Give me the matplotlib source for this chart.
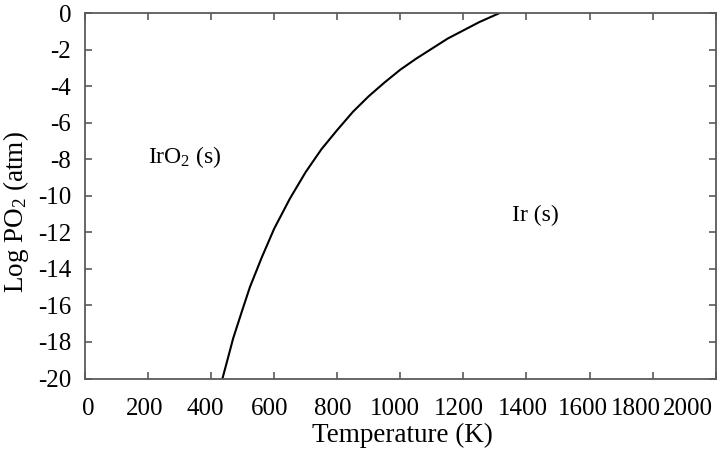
import matplotlib
matplotlib.use('Agg')
import matplotlib.pyplot as plt
from matplotlib.transforms import ScaledTranslation

# boundary IrO2(s) / Ir(s)
temperature = [436, 450, 470, 500, 523, 560, 600, 650, 700, 750, 800, 850, 900, 950,
               1000, 1050, 1100, 1150, 1200, 1250, 1315]
log_po2 = [-20.0, -19.1, -17.8, -16.2, -15.0, -13.4, -11.8, -10.15, -8.7, -7.45, -6.4, -5.4,
           -4.55, -3.8, -3.1, -2.5, -1.95, -1.4, -0.95, -0.5, 0.0]

x_ticks = [0, 200, 400, 600, 800, 1000, 1200, 1400, 1600, 1800, 2000]
y_ticks = [0, -2, -4, -6, -8, -10, -12, -14, -16, -18, -20]

# the reference squeezes the last x labels leftwards (pixels)
x_label_shift = [3, -3, -6, -5, -4, -5, -5, -4, -7, -17, -28]

plt.rcParams['font.family'] = ['Liberation Serif', 'DejaVu Serif']
plt.rcParams['mathtext.fontset'] = 'custom'
plt.rcParams['mathtext.rm'] = 'Liberation Serif'
plt.rcParams['mathtext.it'] = 'Liberation Serif:italic'

axis_color = '#5a5a5a'

fig = plt.figure(figsize=(7.2, 4.49), dpi=100)
ax = fig.add_axes([0.118, 0.157, 0.876, 0.814])

ax.plot(temperature, log_po2, color='black', linewidth=1.5, solid_joinstyle='round')

ax.set_xlim(0, 2000)
ax.set_ylim(-20, 0)
ax.set_xticks(x_ticks)
ax.set_yticks(y_ticks)
ax.set_xticklabels([str(v) for v in x_ticks])
ax.set_yticklabels([str(v) for v in y_ticks])

for s in ax.spines.values():
    s.set_color(axis_color)
    s.set_linewidth(1.3)

ax.tick_params(axis='both', direction='in', length=5, width=1.2, color=axis_color,
               top=True, right=True, labelsize=18, labelcolor='black')
ax.tick_params(axis='x', pad=14)
ax.tick_params(axis='y', pad=10)

for lab, dx in zip(ax.get_xticklabels(), x_label_shift):
    lab.set_transform(lab.get_transform() + ScaledTranslation(dx / 100, 0, fig.dpi_scale_trans))

ax.set_xlabel('Temperature (K)', fontsize=19.5, labelpad=0)
ax.set_ylabel('Log PO$_2$ (atm)', fontsize=19.5)
ax.xaxis.set_label_coords(0.503, -0.122)
ax.yaxis.set_label_coords(-0.086, 0.455)

ax.text(200, -7.9, 'IrO$_2$ (s)', fontsize=17, ha='left', va='center')
ax.text(1353, -11.1, 'Ir (s)', fontsize=17, ha='left', va='center')

plt.savefig('out.png', dpi=100)
plt.close()
